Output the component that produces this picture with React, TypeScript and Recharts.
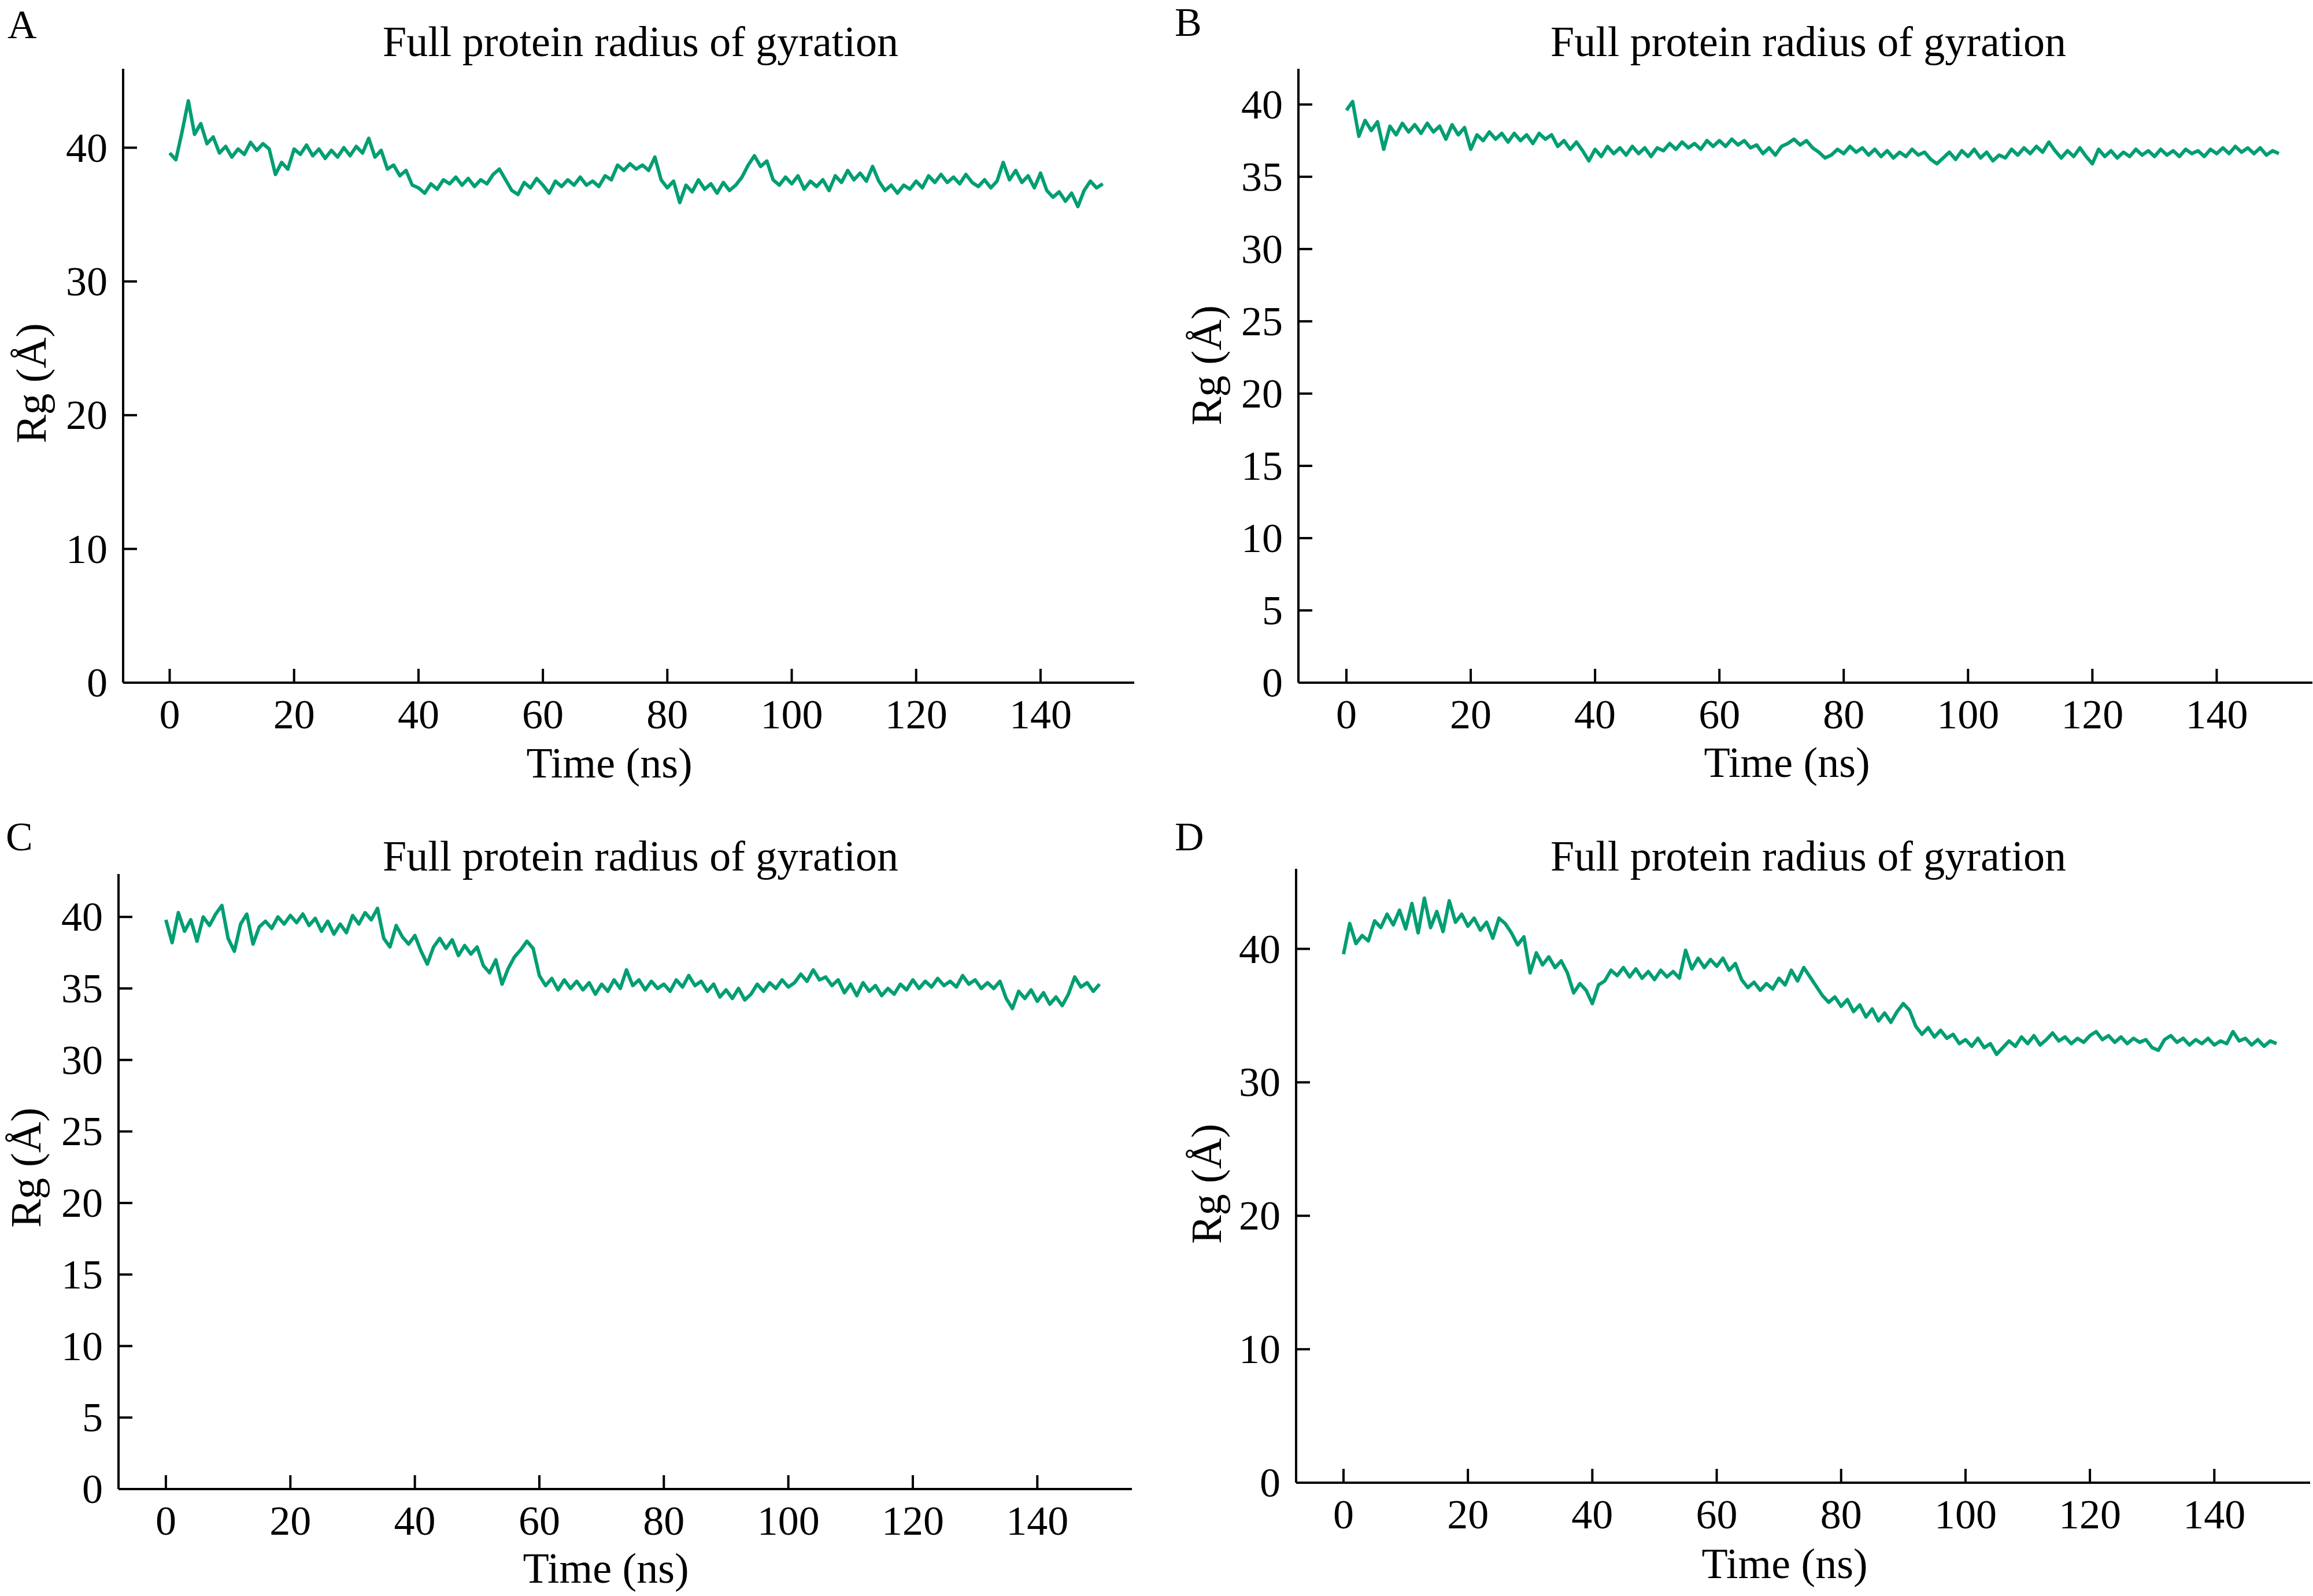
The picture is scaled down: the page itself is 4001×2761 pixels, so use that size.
import React from 'react'
import { LineChart, Line, XAxis, YAxis } from 'recharts'

// Rg (Å), one value per ns from 0 to 150 ns
const rgA = [
  39.6, 39.1, 41.2, 43.5, 41.0, 41.8, 40.3, 40.8, 39.6, 40.1,
  39.3, 39.9, 39.5, 40.4, 39.8, 40.3, 39.9, 38.0, 38.9, 38.4,
  39.9, 39.5, 40.2, 39.4, 39.9, 39.2, 39.8, 39.3, 40.0, 39.4,
  40.1, 39.6, 40.7, 39.3, 39.8, 38.4, 38.7, 37.9, 38.3, 37.2,
  37.0, 36.6, 37.3, 36.9, 37.6, 37.3, 37.8, 37.2, 37.7, 37.1,
  37.6, 37.3, 38.0, 38.4, 37.6, 36.8, 36.5, 37.4, 37.0, 37.7,
  37.2, 36.6, 37.5, 37.1, 37.6, 37.2, 37.8, 37.2, 37.5, 37.1,
  37.9, 37.6, 38.7, 38.3, 38.8, 38.4, 38.7, 38.3, 39.3, 37.6,
  37.0, 37.5, 35.9, 37.2, 36.7, 37.6, 36.9, 37.3, 36.6, 37.4,
  36.8, 37.2, 37.8, 38.7, 39.4, 38.6, 39.0, 37.6, 37.2, 37.8,
  37.3, 37.9, 36.9, 37.5, 37.1, 37.6, 36.8, 37.9, 37.4, 38.3,
  37.6, 38.1, 37.5, 38.6, 37.5, 36.8, 37.2, 36.6, 37.2, 36.9,
  37.5, 37.0, 37.9, 37.4, 38.0, 37.4, 37.8, 37.3, 38.0, 37.4,
  37.1, 37.6, 37.0, 37.5, 38.9, 37.6, 38.3, 37.4, 37.9, 37.0,
  38.1, 36.8, 36.3, 36.7, 36.0, 36.6, 35.6, 36.8, 37.5, 37.0,
  37.3,
]

const rgB = [
  39.6, 40.2, 37.8, 38.9, 38.2, 38.8, 36.9, 38.5, 37.9, 38.7,
  38.1, 38.6, 38.0, 38.7, 38.1, 38.5, 37.6, 38.6, 37.9, 38.4,
  36.9, 37.9, 37.5, 38.1, 37.6, 38.0, 37.4, 38.0, 37.5, 37.9,
  37.3, 38.0, 37.6, 37.9, 37.1, 37.5, 36.9, 37.4, 36.8, 36.1,
  36.9, 36.4, 37.1, 36.6, 37.0, 36.5, 37.1, 36.6, 37.0, 36.4,
  37.0, 36.8, 37.3, 36.9, 37.4, 37.0, 37.3, 36.9, 37.5, 37.1,
  37.5, 37.1, 37.6, 37.2, 37.5, 37.0, 37.2, 36.6, 37.0, 36.5,
  37.1, 37.3, 37.6, 37.2, 37.5, 37.0, 36.7, 36.3, 36.5, 36.9,
  36.6, 37.1, 36.7, 37.0, 36.5, 36.9, 36.4, 36.8, 36.3, 36.7,
  36.4, 36.9, 36.5, 36.7, 36.2, 35.9, 36.3, 36.7, 36.2, 36.8,
  36.4, 36.9, 36.3, 36.7, 36.1, 36.5, 36.3, 36.9, 36.5, 37.0,
  36.6, 37.1, 36.7, 37.4, 36.8, 36.3, 36.8, 36.4, 37.0, 36.4,
  35.9, 36.9, 36.4, 36.8, 36.3, 36.7, 36.4, 36.9, 36.5, 36.8,
  36.4, 36.9, 36.5, 36.8, 36.4, 36.9, 36.6, 36.8, 36.4, 36.9,
  36.6, 37.0, 36.6, 37.1, 36.7, 37.0, 36.6, 37.0, 36.5, 36.8,
  36.6,
]

const rgC = [
  39.8, 38.2, 40.3, 39.0, 39.8, 38.3, 40.0, 39.4, 40.2, 40.8,
  38.5, 37.6, 39.5, 40.2, 38.1, 39.3, 39.7, 39.2, 40.0, 39.5,
  40.1, 39.6, 40.2, 39.4, 39.9, 39.0, 39.7, 38.8, 39.5, 38.9,
  40.1, 39.5, 40.3, 39.8, 40.6, 38.5, 37.9, 39.4, 38.6, 38.1,
  38.7, 37.6, 36.7, 37.9, 38.5, 37.8, 38.4, 37.3, 38.0, 37.4,
  37.9, 36.6, 36.1, 37.0, 35.3, 36.4, 37.2, 37.7, 38.3, 37.8,
  35.9, 35.2, 35.7, 34.9, 35.6, 35.0, 35.5, 34.9, 35.4, 34.6,
  35.3, 34.8, 35.6, 35.0, 36.3, 35.2, 35.6, 34.9, 35.5, 35.0,
  35.3, 34.8, 35.6, 35.1, 35.9, 35.2, 35.5, 34.8, 35.3, 34.4,
  34.9, 34.3, 35.0, 34.2, 34.6, 35.3, 34.8, 35.4, 35.0, 35.6,
  35.1, 35.4, 36.0, 35.5, 36.3, 35.6, 35.8, 35.2, 35.6, 34.7,
  35.3, 34.5, 35.4, 34.8, 35.2, 34.5, 35.0, 34.6, 35.3, 34.9,
  35.6, 35.0, 35.5, 35.1, 35.7, 35.2, 35.5, 35.1, 35.9, 35.3,
  35.6, 35.0, 35.4, 35.0, 35.5, 34.3, 33.6, 34.8, 34.3, 34.9,
  34.1, 34.7, 33.9, 34.4, 33.8, 34.6, 35.8, 35.1, 35.4, 34.8,
  35.3,
]

const rgD = [
  39.6, 41.9, 40.4, 41.0, 40.6, 42.1, 41.6, 42.6, 41.8, 42.9,
  41.5, 43.4, 41.2, 43.8, 41.6, 42.8, 41.3, 43.6, 42.0, 42.6,
  41.7, 42.3, 41.4, 42.0, 40.8, 42.3, 41.9, 41.2, 40.3, 40.9,
  38.2, 39.7, 38.8, 39.4, 38.6, 39.1, 38.2, 36.7, 37.4, 36.9,
  35.9, 37.3, 37.6, 38.4, 38.0, 38.6, 37.9, 38.5, 37.8, 38.3,
  37.7, 38.4, 37.9, 38.3, 37.8, 39.9, 38.5, 39.3, 38.6, 39.2,
  38.7, 39.3, 38.4, 38.9, 37.7, 37.1, 37.5, 36.9, 37.4, 37.0,
  37.8, 37.3, 38.4, 37.6, 38.6, 37.9, 37.2, 36.5, 36.0, 36.4,
  35.7, 36.2, 35.3, 35.8, 34.9, 35.5, 34.6, 35.2, 34.5, 35.3,
  35.9, 35.4, 34.2, 33.6, 34.1, 33.4, 33.9, 33.3, 33.6, 32.9,
  33.2, 32.7, 33.3, 32.6, 32.9, 32.1, 32.6, 33.1, 32.7, 33.4,
  32.9, 33.5, 32.8, 33.2, 33.7, 33.1, 33.4, 32.9, 33.3, 33.0,
  33.5, 33.8, 33.2, 33.5, 33.0, 33.4, 32.9, 33.3, 33.0, 33.2,
  32.6, 32.4, 33.2, 33.5, 33.0, 33.3, 32.8, 33.2, 32.9, 33.3,
  32.8, 33.1, 32.9, 33.8, 33.1, 33.3, 32.8, 33.2, 32.7, 33.1,
  32.9,
]

const SAMPLE_NS = 1
const xTicks = [0, 20, 40, 60, 80, 100, 120, 140]
const yTicks10 = [0, 10, 20, 30, 40]
const yTicks5 = [0, 5, 10, 15, 20, 25, 30, 35, 40]
const panelLetters = ['A', 'B', 'C', 'D']
const title = 'Full protein radius of gyration'
const xLabel = 'Time (ns)'
const yLabel = 'Rg (Å)'

const FONT = '"Liberation Serif", "Times New Roman", serif'
const GREEN = '#009e73'
const YW = 150
const XH = 150
const TICK_LEN = 24

const toRows = (vals: number[]) => vals.map((v, i) => ({ t: i * SAMPLE_NS, rg: v }))

// box = chart svg box on the page, plot = axes rectangle in page px
const panels = [
  {
    values: rgA, yTicks: yTicks10, yMax: 45.9, xDom: [-7.48, 155.06],
    box: { x: 0, y: 0, w: 2000, h: 1380 }, plot: { x0: 213, x1: 1962, y0: 119, y1: 1181 },
    letter: { x: 13, y: 66 }, title: { x: 1108, y: 97 }, xl: { x: 1054, y: 1345 }, yl: { x: 79, y: 663 },
  },
  {
    values: rgB, yTicks: yTicks5, yMax: 42.47, xDom: [-7.72, 155.4],
    box: { x: 2000, y: 0, w: 2001, h: 1380 }, plot: { x0: 2246, x1: 4000, y0: 119, y1: 1181 },
    letter: { x: 2032, y: 62 }, title: { x: 3128, y: 97 }, xl: { x: 3091, y: 1344 }, yl: { x: 2112, y: 632 },
  },
  {
    values: rgC, yTicks: yTicks5, yMax: 43.0, xDom: [-7.61, 155.2],
    box: { x: 0, y: 1380, w: 2000, h: 1381 }, plot: { x0: 205, x1: 1958, y0: 1512, y1: 2576 },
    letter: { x: 10, y: 1471 }, title: { x: 1108, y: 1506 }, xl: { x: 1048, y: 2738 }, yl: { x: 70, y: 2020 },
  },
  {
    values: rgD, yTicks: yTicks10, yMax: 46.0, xDom: [-7.62, 155.4],
    box: { x: 2000, y: 1380, w: 2001, h: 1381 }, plot: { x0: 2242, x1: 3996, y0: 1503, y1: 2565 },
    letter: { x: 2032, y: 1471 }, title: { x: 3128, y: 1506 }, xl: { x: 3087, y: 2730 }, yl: { x: 2112, y: 2048 },
  },
]

const XTick = (props: any) => {
  const { x, y, payload } = props
  return (
    <g>
      <line x1={x} x2={x} y1={y} y2={y - TICK_LEN} stroke="#000" strokeWidth={4} />
      <text x={x} y={y + 79} textAnchor="middle" fontSize={72} fontFamily={FONT} fill="#000">
        {payload.value}
      </text>
    </g>
  )
}

const YTick = (props: any) => {
  const { x, y, payload } = props
  return (
    <g>
      <line x1={x} x2={x + TICK_LEN} y1={y} y2={y} stroke="#000" strokeWidth={4} />
      <text x={x - 27} y={y + 24} textAnchor="end" fontSize={72} fontFamily={FONT} fill="#000">
        {payload.value}
      </text>
    </g>
  )
}

const Panel = ({ p }: { p: (typeof panels)[number] }) => {
  const { box, plot } = p
  const margin = {
    top: plot.y0 - box.y,
    left: plot.x0 - box.x - YW,
    right: box.x + box.w - plot.x1,
    bottom: box.y + box.h - plot.y1 - XH,
  }
  return (
    <div style={{ position: 'absolute', left: box.x, top: box.y, width: box.w, height: box.h }}>
      <LineChart width={box.w} height={box.h} data={toRows(p.values)} margin={margin}>
        <XAxis
          dataKey="t"
          type="number"
          domain={p.xDom}
          ticks={xTicks}
          interval={0}
          allowDataOverflow
          height={XH}
          tickSize={0}
          tickMargin={0}
          tickLine={false}
          axisLine={{ stroke: '#000', strokeWidth: 4 }}
          tick={(props: any) => <XTick {...props} />}
        />
        <YAxis
          type="number"
          domain={[0, p.yMax]}
          ticks={p.yTicks}
          interval={0}
          allowDataOverflow
          width={YW}
          tickSize={0}
          tickMargin={0}
          tickLine={false}
          axisLine={{ stroke: '#000', strokeWidth: 4 }}
          tick={(props: any) => <YTick {...props} />}
        />
        <Line
          type="linear"
          dataKey="rg"
          stroke={GREEN}
          strokeWidth={6}
          strokeLinejoin="round"
          dot={false}
          activeDot={false}
          isAnimationActive={false}
        />
      </LineChart>
    </div>
  )
}

const App = () => {
  return (
    <div style={{ position: 'absolute', left: 0, top: 0, width: 4001, height: 2761, background: '#fff' }}>
      {panels.map((p, i) => (
        <Panel key={i} p={p} />
      ))}
      <svg
        width={4001}
        height={2761}
        style={{ position: 'absolute', left: 0, top: 0, pointerEvents: 'none' }}
        fontFamily={FONT}
        fill="#000"
      >
        {panels.map((p, i) => (
          <g key={i}>
            <text x={p.letter.x} y={p.letter.y} fontSize={70}>
              {panelLetters[i]}
            </text>
            <text x={p.title.x} y={p.title.y} fontSize={74} textAnchor="middle">
              {title}
            </text>
            <text x={p.xl.x} y={p.xl.y} fontSize={74} textAnchor="middle">
              {xLabel}
            </text>
            <text
              x={p.yl.x}
              y={p.yl.y}
              fontSize={74}
              textAnchor="middle"
              transform={`rotate(-90 ${p.yl.x} ${p.yl.y})`}
            >
              {yLabel}
            </text>
          </g>
        ))}
      </svg>
    </div>
  )
}

export default App
